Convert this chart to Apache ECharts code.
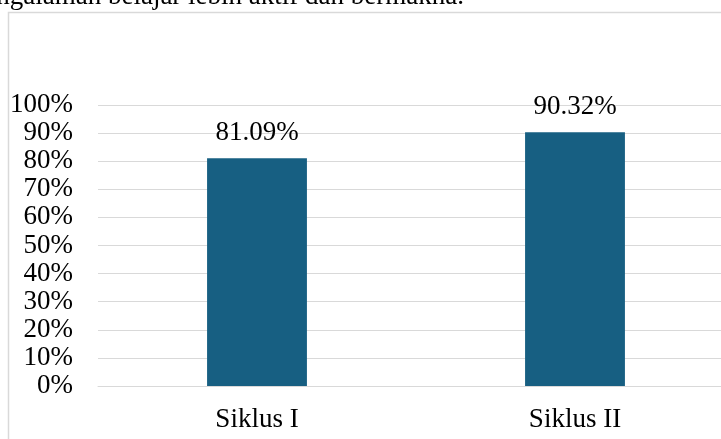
<!DOCTYPE html>
<html>
<head>
<meta charset="utf-8">
<script src="https://cdn.jsdelivr.net/npm/echarts@6/dist/echarts.min.js"></script>
<style>
html,body{margin:0;padding:0;background:#fff;}
#chart{width:721px;height:439px;}
</style>
</head>
<body>
<div id="chart"></div>
<script>
var categories = ['Siklus I', 'Siklus II'];
var values = [81.09, 90.32];
var yTicks = [0, 10, 20, 30, 40, 50, 60, 70, 80, 90, 100];
var captionText = 'pengalaman belajar lebih aktif dan bermakna.';

var FONT = '"Liberation Serif", "Times New Roman", serif';
var chart = echarts.init(document.getElementById('chart'), null, {renderer: 'canvas'});
chart.setOption({
  animation: false,
  backgroundColor: '#ffffff',
  grid: {left: 98, width: 636, top: 105, bottom: 53, containLabel: false, outerBoundsMode: 'none'},
  xAxis: {
    type: 'category',
    data: categories,
    axisLine: {show: true, lineStyle: {color: '#d9d9d9', width: 1}},
    axisTick: {show: false},
    axisLabel: {color: '#000', fontFamily: FONT, fontSize: 27, margin: 20}
  },
  yAxis: {
    type: 'value',
    min: yTicks[0],
    max: yTicks[yTicks.length - 1],
    interval: 10,
    axisLine: {show: false},
    axisTick: {show: false},
    splitLine: {lineStyle: {color: '#d9d9d9', width: 1}},
    axisLabel: {color: '#000', fontFamily: FONT, fontSize: 27, margin: 25, formatter: '{value}%'}
  },
  series: [{
    type: 'bar',
    data: values,
    barWidth: '31.4%',
    itemStyle: {color: '#175f82'},
    label: {
      show: true,
      position: 'top',
      distance: 12,
      color: '#000',
      fontFamily: FONT,
      fontSize: 27,
      formatter: function (p) { return p.value.toFixed(2) + '%'; }
    }
  }],
  graphic: [
    {type: 'rect', z: -10, silent: true,
     shape: {x: 8.5, y: 12.5, width: 900, height: 600},
     style: {fill: 'none', stroke: '#d9d9d9', lineWidth: 1.5}},
    {type: 'text', z: 10, x: 464, y: 10,
     style: {text: captionText, fill: '#000', font: '27px ' + FONT, align: 'right', verticalAlign: 'bottom'}}
  ]
});
</script>
</body>
</html>
